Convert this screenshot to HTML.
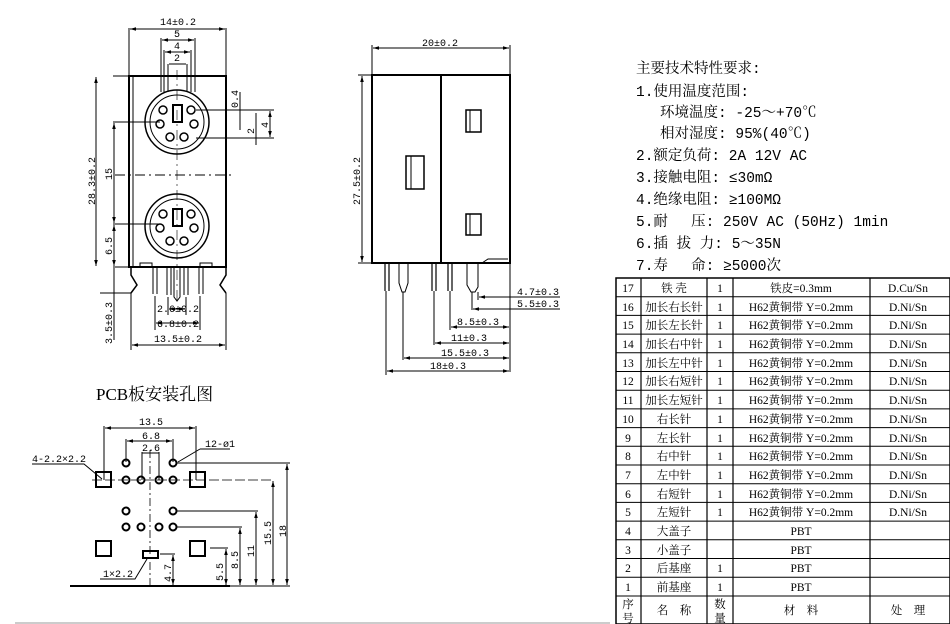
<!DOCTYPE html>
<html><head><meta charset="utf-8"><style>
body{margin:0;background:#fff;}
svg{display:block;font-family:"Liberation Serif","Noto Serif CJK SC",serif;}
.m{font-family:"Liberation Mono","Noto Serif CJK SC",monospace;}
</style></head><body>
<svg width="950" height="624" viewBox="0 0 950 624" xmlns="http://www.w3.org/2000/svg">
<defs><marker id="a" viewBox="0 0 10 10" refX="10" refY="5" markerWidth="6" markerHeight="6" orient="auto-start-reverse"><path d="M0,2L10,5L0,8z" fill="#000"/></marker></defs>
<g stroke="#000" fill="none" stroke-width="1">
<rect x="129" y="76" width="97" height="191" stroke-width="2"/>
<line x1="133" y1="76" x2="133" y2="267"/>
<circle cx="177" cy="122" r="32" stroke-width="1.5"/><circle cx="177" cy="122" r="27"/>
<circle cx="177" cy="226" r="32" stroke-width="1.5"/><circle cx="177" cy="226" r="27"/>
<rect x="173" y="105" width="9" height="17" stroke-width="2"/>
<rect x="173" y="209" width="9" height="17" stroke-width="2"/>
<g stroke-width="1.5">
<circle cx="163" cy="110" r="4"/><circle cx="191" cy="110" r="4"/><circle cx="160" cy="124" r="4"/><circle cx="194" cy="124" r="4"/><circle cx="170" cy="137" r="4"/><circle cx="184" cy="137" r="4"/>
<circle cx="163" cy="214" r="4"/><circle cx="191" cy="214" r="4"/><circle cx="160" cy="228" r="4"/><circle cx="194" cy="228" r="4"/><circle cx="170" cy="241" r="4"/><circle cx="184" cy="241" r="4"/>
</g>
<line x1="115" y1="175" x2="235" y2="175" stroke-dasharray="10,4,2,4"/>
<line x1="177" y1="70" x2="177" y2="300" stroke-dasharray="10,4,2,4" stroke-width=".6"/>
<path d="M131,267 L131,275 L137,285 L131,293 M226,267 L226,275 L220,285 L226,293" stroke-width="1.5"/>
<path d="M153,267v27 M157,267v27 M167,267v28 M171,267v28 M184,267v28 M188,267v28 M199,267v27 M203,267v27 M174,267v30l3,4l3,-4v-30"/>
<rect x="140" y="263" width="12" height="4"/><rect x="200" y="263" width="12" height="4"/>
<line x1="129" y1="28" x2="129" y2="76"/><line x1="226" y1="28" x2="226" y2="76"/>
<line x1="130" y1="29" x2="225" y2="29" marker-start="url(#a)" marker-end="url(#a)"/>
<line x1="161" y1="38" x2="161" y2="92"/><line x1="195" y1="38" x2="195" y2="92"/>
<line x1="162" y1="40" x2="194" y2="40" marker-start="url(#a)" marker-end="url(#a)"/>
<line x1="164" y1="50" x2="164" y2="92"/><line x1="191" y1="50" x2="191" y2="92"/>
<line x1="165" y1="52" x2="190" y2="52" marker-start="url(#a)" marker-end="url(#a)"/>
<line x1="168" y1="64" x2="168" y2="92"/><line x1="187" y1="64" x2="187" y2="92"/>
<line x1="169" y1="64" x2="186" y2="64"/>
<line x1="196" y1="110" x2="274" y2="110"/><line x1="196" y1="138" x2="274" y2="138"/>
<line x1="240" y1="92" x2="240" y2="130"/><line x1="256" y1="113" x2="256" y2="145"/>
<line x1="270" y1="111" x2="270" y2="137" marker-start="url(#a)" marker-end="url(#a)"/>
<line x1="113" y1="76" x2="129" y2="76"/><line x1="113" y1="267" x2="129" y2="267"/>
<line x1="96" y1="77" x2="96" y2="266" marker-start="url(#a)" marker-end="url(#a)"/>
<line x1="113" y1="122" x2="160" y2="122"/><line x1="113" y1="224" x2="160" y2="224"/>
<line x1="114" y1="123" x2="114" y2="223" marker-start="url(#a)" marker-end="url(#a)"/>
<line x1="114" y1="225" x2="114" y2="266" marker-start="url(#a)" marker-end="url(#a)"/>
<line x1="100" y1="293" x2="131" y2="293"/>
<line x1="114" y1="268" x2="114" y2="340"/>
<line x1="155" y1="296" x2="155" y2="330"/><line x1="200" y1="296" x2="200" y2="330"/>
<line x1="156" y1="323" x2="199" y2="323" marker-start="url(#a)" marker-end="url(#a)"/>
<line x1="168" y1="297" x2="168" y2="315"/><line x1="186" y1="297" x2="186" y2="315"/>
<line x1="169" y1="309" x2="185" y2="309" marker-start="url(#a)" marker-end="url(#a)"/>
<line x1="131" y1="293" x2="131" y2="350"/><line x1="226" y1="293" x2="226" y2="350"/>
<line x1="132" y1="345" x2="225" y2="345" marker-start="url(#a)" marker-end="url(#a)"/>
<rect x="372" y="75" width="138" height="188" stroke-width="2"/>
<line x1="441" y1="76" x2="441" y2="263" stroke-width="2"/>
<rect x="406" y="156" width="18" height="33" stroke-width="1.5"/><line x1="411" y1="156" x2="411" y2="189"/>
<rect x="466" y="110" width="15" height="22" stroke-width="1.5"/><line x1="470" y1="110" x2="470" y2="132"/>
<rect x="466" y="214" width="15" height="21" stroke-width="1.5"/><line x1="470" y1="214" x2="470" y2="235"/>
<path d="M385,263v28 M389,263v28 M432,263v28 M436,263v28 M448,263v28 M452,263v28" stroke-width="1.2"/>
<path d="M399,263v20l3,9h3l3,-9v-20 M467,263v22l4,7h4l3,-5v-24"/>
<path d="M482,263 l6,-4 h20" />
<line x1="372" y1="45" x2="372" y2="75"/><line x1="510" y1="45" x2="510" y2="75"/>
<line x1="373" y1="48" x2="509" y2="48" marker-start="url(#a)" marker-end="url(#a)"/>
<line x1="358" y1="75" x2="372" y2="75"/><line x1="358" y1="263" x2="372" y2="263"/>
<line x1="362" y1="76" x2="362" y2="262" marker-start="url(#a)" marker-end="url(#a)"/>
<line x1="510" y1="263" x2="510" y2="372"/>
<line x1="478" y1="292" x2="478" y2="300"/><line x1="479" y1="297" x2="560" y2="297" marker-start="url(#a)"/>
<line x1="472" y1="292" x2="472" y2="310"/><line x1="473" y1="309" x2="509" y2="309" marker-start="url(#a)"/><line x1="509" y1="309" x2="560" y2="309"/>
<line x1="450" y1="291" x2="450" y2="330"/><line x1="451" y1="327" x2="509" y2="327" marker-start="url(#a)" marker-end="url(#a)"/>
<line x1="434" y1="291" x2="434" y2="345"/><line x1="435" y1="343" x2="509" y2="343" marker-start="url(#a)" marker-end="url(#a)"/>
<line x1="403" y1="292" x2="403" y2="360"/><line x1="404" y1="358" x2="509" y2="358" marker-start="url(#a)" marker-end="url(#a)"/>
<line x1="386" y1="291" x2="386" y2="375"/><line x1="387" y1="371" x2="509" y2="371" marker-start="url(#a)" marker-end="url(#a)"/>
<line x1="104" y1="426" x2="104" y2="480"/><line x1="196" y1="426" x2="196" y2="480"/>
<line x1="105" y1="428" x2="195" y2="428" marker-start="url(#a)" marker-end="url(#a)"/>
<line x1="126" y1="439" x2="126" y2="462"/><line x1="173" y1="439" x2="173" y2="462"/>
<line x1="127" y1="441" x2="172" y2="441" marker-start="url(#a)" marker-end="url(#a)"/>
<line x1="142" y1="452" x2="142" y2="480"/><line x1="159" y1="452" x2="159" y2="480"/>
<line x1="142" y1="453" x2="159" y2="453"/>
<line x1="150" y1="450" x2="150" y2="586" stroke-dasharray="8,3,2,3" stroke-width=".8"/>
<rect x="96" y="472" width="15" height="15" stroke-width="2"/><rect x="190" y="472" width="15" height="15" stroke-width="2"/>
<rect x="96" y="541" width="15" height="15" stroke-width="2"/><rect x="190" y="541" width="15" height="15" stroke-width="2"/>
<rect x="143" y="551" width="15" height="7" stroke-width="2"/>
<g stroke-width="2"><circle cx="126" cy="463" r="3.5"/><circle cx="173" cy="463" r="3.5"/>
<circle cx="126" cy="480" r="3.5"/><circle cx="141" cy="480" r="3.5"/><circle cx="159" cy="480" r="3.5"/><circle cx="173" cy="480" r="3.5"/>
<circle cx="126" cy="511" r="3.5"/><circle cx="173" cy="511" r="3.5"/>
<circle cx="126" cy="527" r="3.5"/><circle cx="141" cy="527" r="3.5"/><circle cx="159" cy="527" r="3.5"/><circle cx="173" cy="527" r="3.5"/></g>
<line x1="92" y1="480" x2="274" y2="480" stroke-dasharray="10,3" stroke-width=".8"/>
<line x1="177" y1="463" x2="290" y2="463"/><line x1="177" y1="511" x2="258" y2="511"/><line x1="177" y1="527" x2="242" y2="527"/><line x1="210" y1="548" x2="228" y2="548"/><line x1="160" y1="554" x2="175" y2="554"/>
<line x1="70" y1="586" x2="230" y2="586" stroke-width="2"/><line x1="230" y1="586" x2="290" y2="586"/>
<line x1="287" y1="464" x2="287" y2="585" marker-start="url(#a)" marker-end="url(#a)"/>
<line x1="273" y1="481" x2="273" y2="585" marker-start="url(#a)" marker-end="url(#a)"/>
<line x1="256" y1="512" x2="256" y2="585" marker-start="url(#a)" marker-end="url(#a)"/>
<line x1="240" y1="528" x2="240" y2="585" marker-start="url(#a)" marker-end="url(#a)"/>
<line x1="226" y1="549" x2="226" y2="585" marker-start="url(#a)" marker-end="url(#a)"/>
<line x1="173" y1="555" x2="173" y2="585" marker-start="url(#a)" marker-end="url(#a)"/>
<path d="M32,464h52l18,15"/><path d="M200,449h30M200,449l-22,13"/><path d="M100,579h35l12,-20"/>
<line x1="15" y1="623" x2="610" y2="623" stroke="#999"/>
<rect x="616" y="278" width="334" height="346" stroke-width="1.5"/>
<path d="M641,278V624M707,278V624M733,278V624M870,278V624" stroke-width="1.2"/>
</g>
<g stroke="#000" stroke-width="1">
<line x1="616" y1="296.7" x2="950" y2="296.7"/><line x1="616" y1="315.4" x2="950" y2="315.4"/><line x1="616" y1="334.1" x2="950" y2="334.1"/><line x1="616" y1="352.8" x2="950" y2="352.8"/><line x1="616" y1="371.5" x2="950" y2="371.5"/><line x1="616" y1="390.2" x2="950" y2="390.2"/><line x1="616" y1="408.9" x2="950" y2="408.9"/><line x1="616" y1="427.6" x2="950" y2="427.6"/><line x1="616" y1="446.3" x2="950" y2="446.3"/><line x1="616" y1="465" x2="950" y2="465"/><line x1="616" y1="483.7" x2="950" y2="483.7"/><line x1="616" y1="502.4" x2="950" y2="502.4"/><line x1="616" y1="521.1" x2="950" y2="521.1"/><line x1="616" y1="539.8" x2="950" y2="539.8"/><line x1="616" y1="558.5" x2="950" y2="558.5"/><line x1="616" y1="577.2" x2="950" y2="577.2"/><line x1="616" y1="596" x2="950" y2="596"/>
</g>
<g font-size="10" fill="#000" class="m">
<text x="160" y="25">14±0.2</text><text x="174" y="37">5</text><text x="174" y="49">4</text><text x="174" y="61">2</text>
<text transform="translate(238,108) rotate(-90)">0.4</text><text transform="translate(254,134) rotate(-90)">2</text><text transform="translate(268,128) rotate(-90)">4</text>
<text transform="translate(95,205) rotate(-90)">28.3±0.2</text><text transform="translate(112,180) rotate(-90)">15</text><text transform="translate(112,255) rotate(-90)">6.5</text><text transform="translate(112,344) rotate(-90)">3.5±0.3</text>
<text x="157" y="312">2.6±0.2</text><text x="157" y="327">6.8±0.2</text><text x="154" y="342">13.5±0.2</text>
<text x="422" y="46">20±0.2</text><text transform="translate(360,205) rotate(-90)">27.5±0.2</text>
<text x="517" y="295">4.7±0.3</text><text x="517" y="307">5.5±0.3</text><text x="457" y="325">8.5±0.3</text><text x="451" y="341">11±0.3</text><text x="441" y="356">15.5±0.3</text><text x="430" y="369">18±0.3</text>
<text x="139" y="425">13.5</text><text x="142" y="439">6.8</text><text x="142" y="451">2.6</text><text x="205" y="447">12-ø1</text><text x="32" y="462">4-2.2×2.2</text><text x="103" y="577">1×2.2</text>
<text transform="translate(286,537) rotate(-90)">18</text><text transform="translate(271,545) rotate(-90)">15.5</text><text transform="translate(254,557) rotate(-90)">11</text><text transform="translate(238,569) rotate(-90)">8.5</text><text transform="translate(223,581) rotate(-90)">5.5</text><text transform="translate(171,582) rotate(-90)">4.7</text>
</g>
<text x="96" y="400" font-size="17">PCB板安装孔图</text>
<g font-size="14.5" fill="#000" class="m">
<text x="636" y="73">主要技术特性要求:</text>
<text x="636" y="96">1.使用温度范围:</text>
<text x="660" y="117">环境温度: -25～+70℃</text>
<text x="660" y="138">相对湿度: 95%(40℃)</text>
<text x="636" y="160">2.额定负荷: 2A 12V AC</text>
<text x="636" y="182">3.接触电阻: ≤30mΩ</text>
<text x="636" y="204">4.绝缘电阻: ≥100MΩ</text>
<text x="636" y="226">5.耐　 压: 250V AC (50Hz) 1min</text>
<text x="636" y="248">6.插 拔 力: 5～35N</text>
<text x="636" y="270">7.寿　 命: ≥5000次</text>
</g>
<g font-size="11.5" fill="#000">
<g text-anchor="middle">
<text x="628" y="292">17</text><text x="628" y="311">16</text><text x="628" y="329">15</text><text x="628" y="348">14</text><text x="628" y="367">13</text><text x="628" y="385">12</text><text x="628" y="404">11</text><text x="628" y="423">10</text><text x="628" y="442">9</text><text x="628" y="460">8</text><text x="628" y="479">7</text><text x="628" y="498">6</text><text x="628" y="516">5</text><text x="628" y="535">4</text><text x="628" y="554">3</text><text x="628" y="572">2</text><text x="628" y="591">1</text>
<text x="674" y="292">铁 壳</text><text x="674" y="311">加长右长针</text><text x="674" y="329">加长左长针</text><text x="674" y="348">加长右中针</text><text x="674" y="367">加长左中针</text><text x="674" y="385">加长右短针</text><text x="674" y="404">加长左短针</text><text x="674" y="423">右长针</text><text x="674" y="442">左长针</text><text x="674" y="460">右中针</text><text x="674" y="479">左中针</text><text x="674" y="498">右短针</text><text x="674" y="516">左短针</text><text x="674" y="535">大盖子</text><text x="674" y="554">小盖子</text><text x="674" y="572">后基座</text><text x="674" y="591">前基座</text>
<text x="720" y="292">1</text><text x="720" y="311">1</text><text x="720" y="329">1</text><text x="720" y="348">1</text><text x="720" y="367">1</text><text x="720" y="385">1</text><text x="720" y="404">1</text><text x="720" y="423">1</text><text x="720" y="442">1</text><text x="720" y="460">1</text><text x="720" y="479">1</text><text x="720" y="498">1</text><text x="720" y="516">1</text><text x="720" y="572">1</text><text x="720" y="591">1</text>
<text x="801" y="292">铁皮=0.3mm</text>
<text x="801" y="311">H62黄铜带 Y=0.2mm</text><text x="801" y="329">H62黄铜带 Y=0.2mm</text><text x="801" y="348">H62黄铜带 Y=0.2mm</text><text x="801" y="367">H62黄铜带 Y=0.2mm</text><text x="801" y="385">H62黄铜带 Y=0.2mm</text><text x="801" y="404">H62黄铜带 Y=0.2mm</text><text x="801" y="423">H62黄铜带 Y=0.2mm</text><text x="801" y="442">H62黄铜带 Y=0.2mm</text><text x="801" y="460">H62黄铜带 Y=0.2mm</text><text x="801" y="479">H62黄铜带 Y=0.2mm</text><text x="801" y="498">H62黄铜带 Y=0.2mm</text><text x="801" y="516">H62黄铜带 Y=0.2mm</text>
<text x="801" y="535">PBT</text><text x="801" y="554">PBT</text><text x="801" y="572">PBT</text><text x="801" y="591">PBT</text>
<text x="908" y="292">D.Cu/Sn</text><text x="908" y="311">D.Ni/Sn</text><text x="908" y="329">D.Ni/Sn</text><text x="908" y="348">D.Ni/Sn</text><text x="908" y="367">D.Ni/Sn</text><text x="908" y="385">D.Ni/Sn</text><text x="908" y="404">D.Ni/Sn</text><text x="908" y="423">D.Ni/Sn</text><text x="908" y="442">D.Ni/Sn</text><text x="908" y="460">D.Ni/Sn</text><text x="908" y="479">D.Ni/Sn</text><text x="908" y="498">D.Ni/Sn</text><text x="908" y="516">D.Ni/Sn</text>
<text x="628" y="608">序</text><text x="628" y="622">号</text><text x="674" y="614">名　称</text><text x="720" y="608">数</text><text x="720" y="622">量</text><text x="801" y="614">材　料</text><text x="908" y="614">处　理</text>
</g></g>
</svg>
</body></html>
